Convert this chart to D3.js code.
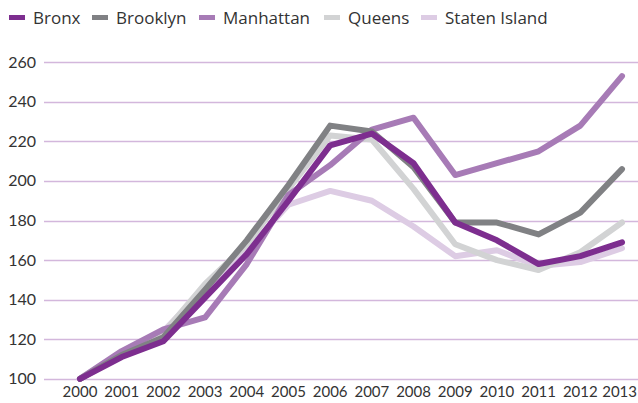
<!DOCTYPE html>
<html>
<head>
<meta charset="utf-8">
<script src="https://cdn.jsdelivr.net/npm/d3@7"></script>
<style>
  body { margin: 0; background: #fff; }
  svg { display: block; font-family: "Lato", "Open Sans", sans-serif; }
</style>
</head>
<body>
<div id="chart"></div>
<script>
// years on the x axis
var years = [2000, 2001, 2002, 2003, 2004, 2005, 2006, 2007, 2008, 2009, 2010, 2011, 2012, 2013];

// index values per borough (2000 = 100)
var bronx     = [100, 111, 119, 141, 163, 190, 218, 224, 209, 179, 170, 158, 162, 169];
var brooklyn  = [100, 112, 121, 145, 170, 198, 228, 225, 207, 179, 179, 173, 184, 206];
var manhattan = [100, 114, 125, 131, 158, 193, 208, 226, 232, 203, 209, 215, 228, 253];
var queens    = [100, 113, 123, 148, 168, 196, 223, 221, 196, 168, 160, 155, 164, 179];
var staten    = [100, 113, 124, 146, 165, 188, 195, 190, 177, 162, 165, 157, 159, 166];

var yTicks = [100, 120, 140, 160, 180, 200, 220, 240, 260];

var series = [
    { name: "Bronx", values: bronx, color: "#7d2e8f" },
    { name: "Brooklyn", values: brooklyn, color: "#808184" },
    { name: "Manhattan", values: manhattan, color: "#a77bb6" },
    { name: "Queens", values: queens, color: "#d2d3d4" },
    { name: "Staten Island", values: staten, color: "#ddcce4" }
];

var width = 638, height = 403;

var svg = d3.select("#chart")
    .append("svg")
    .attr("width", width)
    .attr("height", height);

var x = d3.scaleLinear()
    .domain([2000, 2013])
    .range([80, 622]);

var y = d3.scaleLinear()
    .domain([100, 260])
    .range([378.8, 62.3]);

// gridlines
svg.append("g")
    .selectAll("line")
    .data(yTicks)
    .enter()
    .append("line")
    .attr("x1", 44)
    .attr("x2", width)
    .attr("y1", function (d) { return Math.round(y(d)) + 0.5; })
    .attr("y2", function (d) { return Math.round(y(d)) + 0.5; })
    .style("stroke", "#d3b7dc")
    .style("stroke-width", 1.5);

// y labels
svg.append("g")
    .selectAll("text")
    .data(yTicks)
    .enter()
    .append("text")
    .attr("x", 36)
    .attr("y", function (d) { return y(d) + 5.5; })
    .attr("text-anchor", "end")
    .style("font-size", "16px")
    .style("fill", "#333")
    .text(function (d) { return d; });

// x labels (last one pinned to the right edge so it isn't clipped)
svg.append("g")
    .selectAll("text")
    .data(years)
    .enter()
    .append("text")
    .attr("x", function (d, i) { return i === years.length - 1 ? width - 1 : x(d); })
    .attr("y", 397)
    .attr("text-anchor", function (d, i) { return i === years.length - 1 ? "end" : "middle"; })
    .style("font-size", "15px")
    .style("fill", "#333")
    .text(function (d) { return d; });

var line = d3.line()
    .x(function (d, i) { return x(years[i]); })
    .y(function (d) { return y(d); });

// draw back to front so Bronx ends on top
svg.append("g")
    .selectAll("path")
    .data(series.slice().reverse())
    .enter()
    .append("path")
    .attr("d", function (d) { return line(d.values); })
    .style("fill", "none")
    .style("stroke", function (d) { return d.color; })
    .style("stroke-width", 6)
    .style("stroke-linejoin", "round")
    .style("stroke-linecap", "round");

// legend
var legendX = [9, 92, 199, 324, 421];
var legend = svg.append("g")
    .selectAll("g")
    .data(series)
    .enter()
    .append("g")
    .attr("transform", function (d, i) { return "translate(" + legendX[i] + ",0)"; });

legend.append("rect")
    .attr("x", 0)
    .attr("y", 15)
    .attr("width", 16)
    .attr("height", 5)
    .style("fill", function (d) { return d.color; });

legend.append("text")
    .attr("x", 24)
    .attr("y", 24)
    .style("font-family", "'Open Sans', sans-serif")
    .style("font-size", "17px")
    .style("fill", "#333")
    .text(function (d) { return d.name; });
</script>
</body>
</html>
